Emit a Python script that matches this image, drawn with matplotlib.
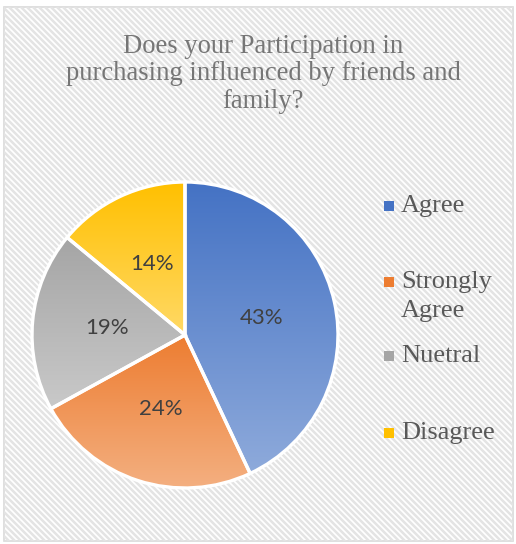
import numpy as np
import matplotlib.pyplot as plt
from matplotlib.patches import Rectangle
from matplotlib.colors import to_rgb

# survey answers
labels = ["Agree", "Strongly\nAgree", "Nuetral", "Disagree"]
shares = [43, 24, 19, 14]
top_colors = ["#4472c4", "#ed7d31", "#a5a5a5", "#ffc000"]
bottom_colors = ["#8eaadb", "#f4b183", "#c9c9c9", "#ffd966"]
legend_y = [206, 282, 356, 433]

title = "Does your Participation in\npurchasing influenced by friends and\nfamily?"

W, H = 516, 544
fig = plt.figure(figsize=(W / 100, H / 100), dpi=100)
ax = fig.add_axes([0, 0, 1, 1])

# chart area background: white with thin diagonal stripes
frame = Rectangle((3.5, 3.5), W - 7, H - 10, facecolor="white",
                  edgecolor="#d9d9d9", linewidth=1.2, zorder=0)
ax.add_patch(frame)
for x0 in np.arange(-H, W, 6.0):
    ln, = ax.plot([x0, x0 + H], [H, 0], color="#e4e4e4", lw=1.8,
                  solid_capstyle="butt", zorder=0.5)
    ln.set_clip_path(frame)

cx, cy, r = 185, H - 335, 153
wedges, _, pcts = ax.pie(
    shares, startangle=90, counterclock=False, center=(cx, cy), radius=r,
    autopct=lambda p: f"{p:.0f}%", pctdistance=0.51,
    wedgeprops=dict(edgecolor="white", linewidth=2.4),
    textprops=dict(family="Lato", fontsize=16, color="#404040"))

# vertical gradient fill for each slice
for w, c_top, c_bot in zip(wedges, top_colors, bottom_colors):
    verts = w.get_patch_transform().transform(w.get_path().vertices)
    ymin, ymax = verts[:, 1].min(), verts[:, 1].max()
    xmin, xmax = verts[:, 0].min(), verts[:, 0].max()
    t = np.linspace(0, 1, 256)[:, None]
    grad = (1 - t) * np.array(to_rgb(c_bot)) + t * np.array(to_rgb(c_top))
    im = ax.imshow(grad[:, None, :], extent=(xmin, xmax, ymin, ymax),
                   origin="lower", aspect="auto", zorder=1.5,
                   interpolation="bilinear")
    im.set_clip_path(w)
    w.set_facecolor("none")
    w.set_zorder(2)
for t in pcts:
    t.set_zorder(3)

# legend
for lab, y, c_top, c_bot in zip(labels, legend_y, top_colors, bottom_colors):
    ax.add_patch(Rectangle((384, H - y - 5), 10, 10, facecolor=c_top,
                           edgecolor="none", zorder=3))
    first, *rest = lab.split("\n")
    ax.text(401, H - y, first, family="Liberation Serif", fontsize=19,
            color="#595959", va="center", ha="left", zorder=3)
    for i, extra in enumerate(rest, 1):
        ax.text(401, H - y - 29 * i, extra, family="Liberation Serif",
                fontsize=19, color="#595959", va="center", ha="left", zorder=3)

ax.text(W / 2 + 5, H - 74, title, family="Liberation Serif", fontsize=19.2,
        color="#767676", ha="center", va="center", linespacing=1.12, zorder=3)

ax.set_xlim(0, W)
ax.set_ylim(0, H)
ax.set_aspect("auto")
ax.axis("off")

fig.savefig("out.png", dpi=100)
